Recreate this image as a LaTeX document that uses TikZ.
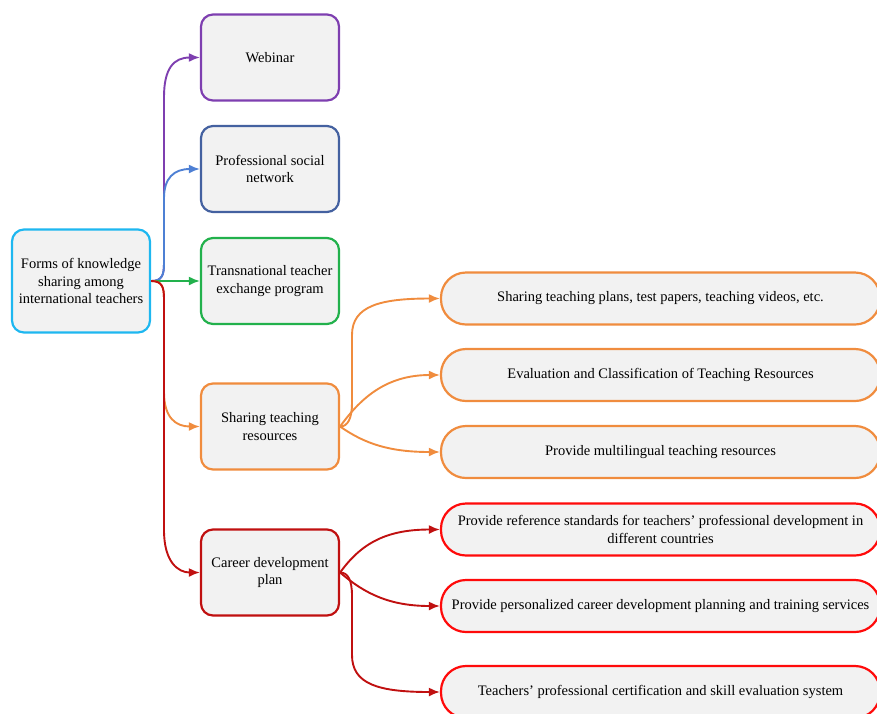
\documentclass[tikz,border=0pt]{standalone}
\usepackage{fontspec}
\setmainfont{Liberation Serif}
\usetikzlibrary{arrows.meta,calc}
\definecolor{boxfill}{RGB}{242,242,242}
\definecolor{cRoot}{RGB}{30,183,240}
\definecolor{cPurple}{RGB}{126,63,176}
\definecolor{cBlueBox}{RGB}{68,97,160}
\definecolor{cBlueLine}{RGB}{78,128,212}
\definecolor{cGreen}{RGB}{34,177,76}
\definecolor{cOrange}{RGB}{240,140,62}
\definecolor{cDarkRed}{RGB}{192,16,16}
\definecolor{cRed}{RGB}{255,10,10}
\begin{document}
\begin{tikzpicture}[x=1pt,y=-1pt,
  txt/.style={font=\fontsize{14.5}{17.5}\selectfont},
  box/.style={txt, draw, line width=2.2pt, fill=boxfill, rounded corners=12pt,
    minimum width=138pt, minimum height=86pt, align=center, inner sep=1pt},
  pill/.style={txt, draw, line width=2.2pt, fill=boxfill, rounded corners=25pt,
    minimum width=439pt, minimum height=52pt, align=center, inner sep=1pt},
  con/.style={line width=1.9pt, -{Latex[length=11pt,width=9pt]}}]
\useasboundingbox (0,0) rectangle (877,713);

% nodes
\node[box, draw=cRoot, minimum height=103pt] (root) at (81,281)
  {Forms of knowledge\\sharing among\\international teachers};
\node[box, draw=cPurple] (web) at (270,57.5) {Webinar};
\node[box, draw=cBlueBox] (psn) at (270,169) {Professional social\\network};
\node[box, draw=cGreen] (tr) at (270,281) {Transnational teacher\\exchange program};
\node[box, draw=cOrange] (str) at (270,426.5) {Sharing teaching\\resources};
\node[box, draw=cDarkRed] (cdp) at (270,572.5) {Career development\\plan};

\node[pill, draw=cOrange] (o1) at (660.5,298.5) {Sharing teaching plans, test papers, teaching videos, etc.};
\node[pill, draw=cOrange] (o2) at (660.5,375) {Evaluation and Classification of Teaching Resources};
\node[pill, draw=cOrange] (o3) at (660.5,452) {Provide multilingual teaching resources};
\node[pill, draw=cRed] (r1) at (660.5,529.5) {Provide reference standards for teachers' professional development in\\different countries};
\node[pill, draw=cRed] (r2) at (660.5,606) {Provide personalized career development planning and training services};
\node[pill, draw=cRed] (r3) at (660.5,692) {Teachers' professional certification and skill evaluation system};

% connectors from root
\draw[con, cPurple] (root.east) .. controls +(11,0) and +(0,12) .. (164,263) -- (164,97)
  .. controls (164,68) and (174,57.5) .. (web.west);
\draw[con, cBlueLine] (root.east) .. controls +(11,0) and +(0,12) .. (164,263) -- (164,198)
  .. controls (164,178) and (174,169) .. (psn.west);
\draw[con, cGreen] (root.east) -- (tr.west);
\draw[con, cOrange] (root.east) .. controls +(11,0) and +(0,-12) .. (164,299) -- (164,392)
  .. controls (164,418) and (176,426.5) .. (str.west);
\draw[con, cDarkRed] (root.east) .. controls +(11,0) and +(0,-12) .. (164,299) -- (164,530)
  .. controls (164,562) and (178,572.5) .. (cdp.west);

% connectors from sharing
\draw[con, cOrange] (str.east) .. controls (348,426.5) and (352,418) .. (352,403) -- (352,335)
  .. controls (352,306) and (380,298.5) .. (o1.west);
\draw[con, cOrange] (str.east) .. controls (362,396) and (388,375) .. (o2.west);
\draw[con, cOrange] (str.east) .. controls (365,444) and (390,452) .. (o3.west);

% connectors from career
\draw[con, cDarkRed] (cdp.east) .. controls (362,542) and (388,529.5) .. (r1.west);
\draw[con, cDarkRed] (cdp.east) .. controls (365,594) and (390,606) .. (r2.west);
\draw[con, cDarkRed] (cdp.east) .. controls (348,572.5) and (352,580) .. (352,596) -- (352,655)
  .. controls (352,684) and (378,692) .. (r3.west);
\end{tikzpicture}
\end{document}
